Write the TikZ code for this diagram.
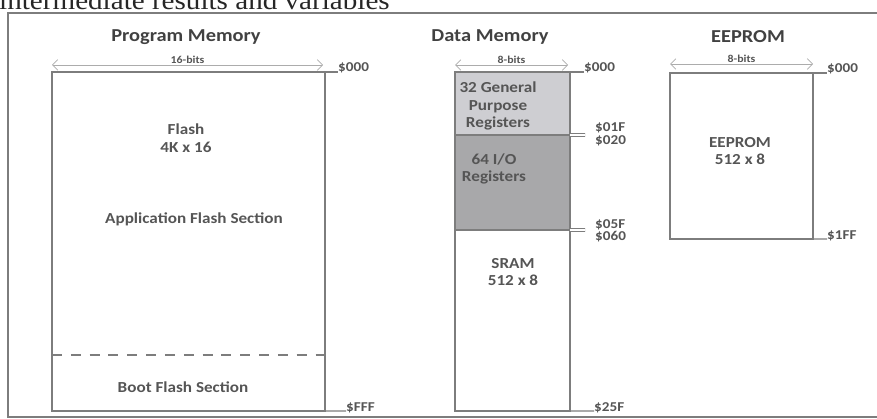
\documentclass[tikz,border=0pt]{standalone}
\usepackage{fontspec}
\setmainfont{Carlito}[FakeStretch=1.12]
\newfontfamily\scanserif{Liberation Serif}[FakeStretch=1.1]
\usetikzlibrary{arrows.meta,positioning}
\definecolor{lineg}{RGB}{125,125,125}
\definecolor{textg}{RGB}{85,85,85}
\definecolor{titleg}{RGB}{65,65,65}
\definecolor{gpfill}{RGB}{206,206,210}
\definecolor{iofill}{RGB}{168,168,170}

\begin{document}
\begin{tikzpicture}[
    x=0.85pt, y=-0.85pt,
    font=\bfseries\fontsize{13}{15}\selectfont,
    text=textg,
    mem/.style={draw=lineg, line width=1.5pt, inner sep=0pt, outer sep=0pt, minimum width=#1},
    title/.style={text=titleg, font=\bfseries\fontsize{15.5}{18}\selectfont},
    bits/.style={font=\bfseries\fontsize{9}{10}\selectfont, inner sep=1pt},
    addr/.style={font=\bfseries\fontsize{11.5}{13}\selectfont, inner sep=0pt},
    span/.style={{Straight Barb[length=1.6mm]}-{Straight Barb[length=1.6mm]}, draw=gray!65, line width=0.6pt},
    tick/.style={draw=lineg, line width=1pt},
    dtick/.style={draw=lineg, line width=0.7pt, double=white, double distance=1.6pt},
    boot/.style={draw=lineg, line width=1.3pt, dash pattern=on 8.5pt off 7.5pt}
  ]
  \useasboundingbox (0,0) rectangle (877,419);
  \clip (0,0) rectangle (877,419);

  % scanned page
  \node[anchor=base west, inner sep=0pt, text=black!85, font=\scanserif\fontsize{22.5}{26}\selectfont] (head) at (-1,10) {intermediate results and variables};
  \draw[draw=lineg, line width=1pt] (8,13) rectangle (885,417);

  % titles
  \node[title] (progt) at (186,37) {Program Memory};
  \node[title] (datat) at (490,37) {Data Memory};
  \node[title] (eept) at (748,37) {EEPROM};

  % program memory
  \node[mem=232pt, minimum height=288.15pt, anchor=north west] (prog) at (52,72) {};
  \coordinate (pl) at (52,65);
  \coordinate (pr) at (323,65);
  \draw[span] (pl) -- node[bits, above] (pbits) {16-bits} (pr);
  \node[align=center] (flash) at (186,138) {Flash\\4K x 16};
  \node (app) at (194,219) {Application Flash Section};
  \coordinate (bootl) at (52,355);
  \coordinate (bootr) at (325,355);
  \draw[boot] (bootl) -- (bootr);
  \node (bootsec) at (183,387) {Boot Flash Section};
  \node[addr, anchor=base west] (p000) at (338,72) {\$000};
  \node[addr, anchor=base west] (pfff) at (346,411) {\$FFF};
  \draw[tick] (prog.north east) -- (p000.base west);
  \draw[tick] (prog.south east) -- (pfff.base west);

  % data memory
  \node[mem=97.75pt, minimum height=53.55pt, fill=gpfill, anchor=north west] (gpr) at (455,72) {};
  \node[mem=97.75pt, minimum height=80.75pt, fill=iofill, below=0pt of gpr] (ior) {};
  \node[mem=97.75pt, minimum height=153.85pt, below=0pt of ior] (sram) {};
  \coordinate (dl) at (455,65);
  \coordinate (dr) at (568,65);
  \draw[span] (dl) -- node[bits, above] (dbits) {8-bits} (dr);
  \node[align=center] (gptxt) at (498,106) {32 General\\Purpose\\Registers};
  \node[align=center] (iotxt) at (494,169) {64 I/O\\Registers};
  \node[align=center] (sramtxt) at (513,272) {SRAM\\512 x 8};
  \node[addr, anchor=base west] (d000) at (584,72) {\$000};
  \node[addr, anchor=base west] (d01f) at (595,132) {\$01F};
  \node[addr, anchor=base west] (d020) at (595,145) {\$020};
  \node[addr, anchor=base west] (d05f) at (595,228) {\$05F};
  \node[addr, anchor=base west] (d060) at (595,240) {\$060};
  \node[addr, anchor=base west] (d25f) at (594,411) {\$25F};
  \coordinate (t1) at (585,135);
  \coordinate (t2) at (585,230);
  \draw[tick] (gpr.north east) -- (d000.base west);
  \draw[dtick] (gpr.south east) -- (t1);
  \draw[dtick] (ior.south east) -- (t2);
  \draw[tick] (sram.south east) -- (d25f.base west);

  % eeprom
  \node[mem=121.55pt, minimum height=141.1pt, anchor=north west] (eep) at (670,73) {};
  \coordinate (el) at (670,64);
  \coordinate (er) at (813,64);
  \draw[span] (el) -- node[bits, above] (ebits) {8-bits} (er);
  \node[align=center] (eeptxt) at (740,151) {EEPROM\\512 x 8};
  \node[addr, anchor=base west] (e000) at (827,73) {\$000};
  \node[addr, anchor=base west] (e1ff) at (827,239) {\$1FF};
  \draw[tick] (eep.north east) -- (e000.base west);
  \draw[tick] (eep.south east) -- (e1ff.base west);
\end{tikzpicture}
\end{document}
